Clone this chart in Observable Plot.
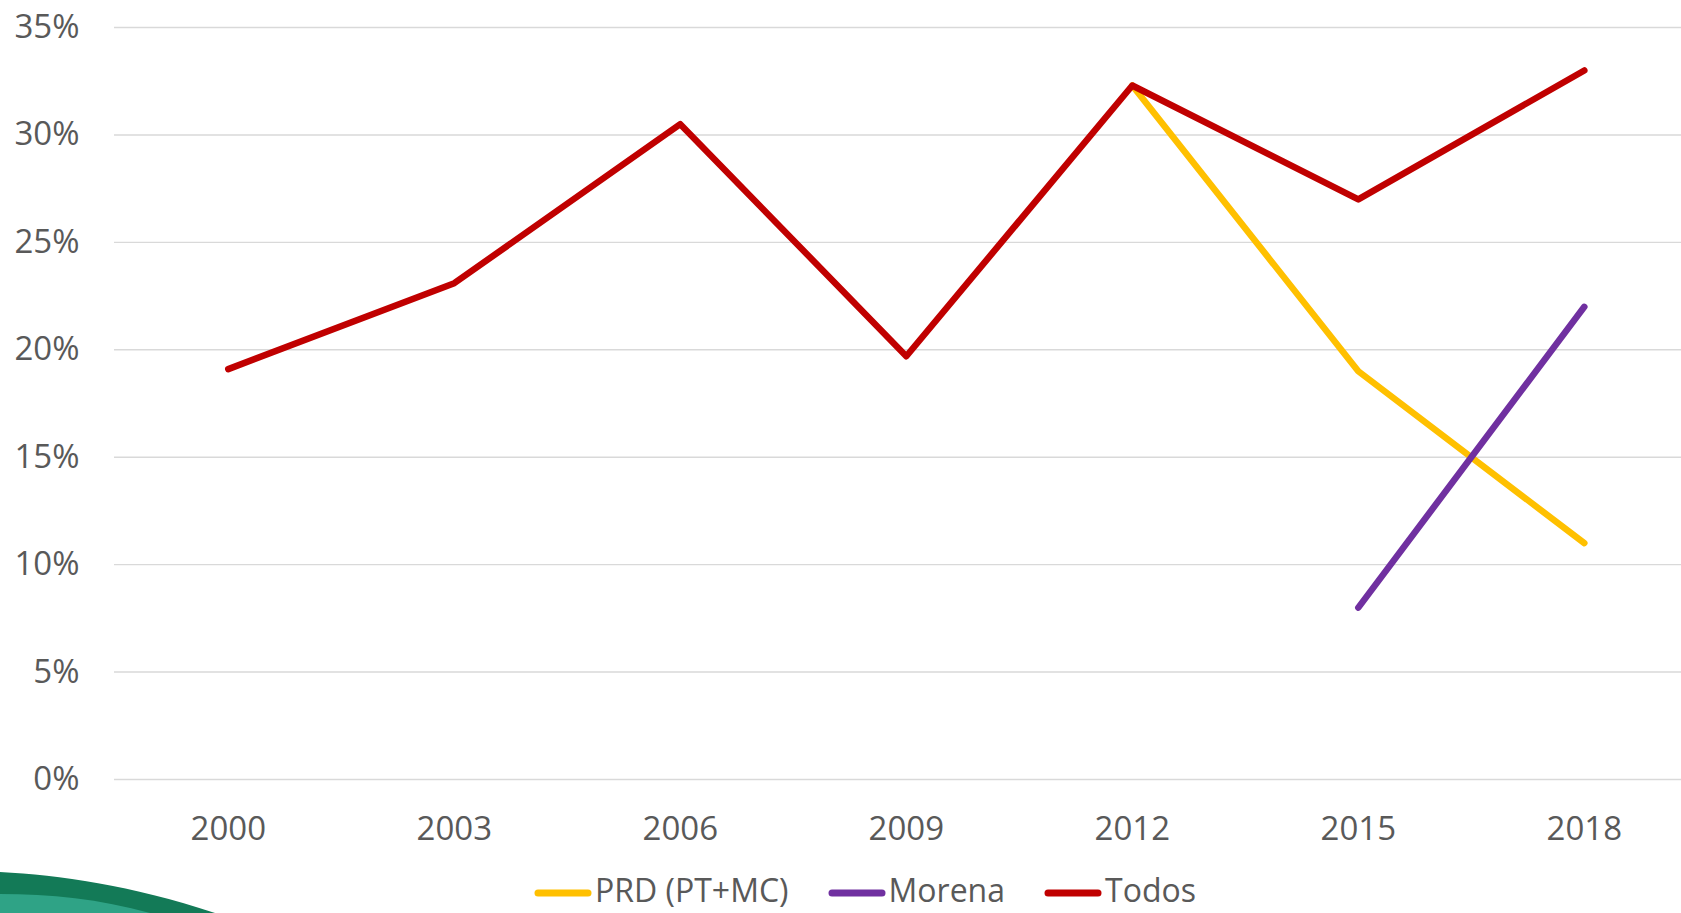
<!DOCTYPE html>
<html>
<head>
<meta charset="utf-8">
<script src="https://cdn.jsdelivr.net/npm/d3@7"></script>
<script src="https://cdn.jsdelivr.net/npm/@observablehq/plot@0.6"></script>
<style>
  html, body { margin: 0; padding: 0; background: #fff; overflow: hidden; }
  body { width: 1681px; height: 913px; position: relative; font-family: "Open Sans", sans-serif; }
  #chart { position: absolute; left: 0; top: 0; }
  #legend { position: absolute; left: 534px; top: 868px; height: 44px; display: flex; align-items: center; font-size: 32px; line-height: 44px; color: #595959; white-space: nowrap; }
  .item { display: flex; align-items: center; margin-right: 39px; height: 44px; }
  .item svg { margin-right: 3px; position: relative; top: 3px; }
  #deco { position: absolute; left: 0; top: 860px; }
</style>
</head>
<body>
<svg id="deco" width="260" height="53" viewBox="0 0 260 53">
  <path d="M0,12 C60,15 130,25 215,53 L0,53 Z" fill="#137a57"/>
  <path d="M0,34 C50,34 100,39 150,53 L0,53 Z" fill="#2fa386"/>
</svg>
<div id="chart"></div>
<div id="legend"></div>
<script>
const years = [2000, 2003, 2006, 2009, 2012, 2015, 2018];
const todos = [19.1, 23.1, 30.5, 19.7, 32.3, 27.0, 33.0];
const prd = [null, null, null, null, 32.3, 19.0, 11.0];
const morena = [null, null, null, null, null, 8.0, 22.0];
const seriesNames = ["PRD (PT+MC)", "Morena", "Todos"];
const seriesColors = ["#FFC000", "#7030A0", "#C00000"];
const yTicks = [0, 5, 10, 15, 20, 25, 30, 35];

const seriesValues = [prd, morena, todos];
const rows = [];
seriesNames.forEach((name, i) => {
  years.forEach((yr, j) => {
    const v = seriesValues[i][j];
    if (v != null) rows.push({series: name, year: yr, value: v});
  });
});

const chart = Plot.plot({
  width: 1681,
  height: 860,
  marginLeft: 114,
  marginRight: 0,
  marginTop: 27,
  marginBottom: 81,
  style: {fontFamily: "'Open Sans', sans-serif", fontSize: "33px", color: "#595959", background: "transparent", overflow: "visible"},
  x: {type: "linear", domain: [1998.49, 2019.29], ticks: years, tickFormat: d => String(d), tickSize: 0, tickPadding: 37, label: null},
  y: {domain: [0, 35], ticks: yTicks, tickFormat: d => d + "%", tickSize: 0, tickPadding: 35, label: null},
  color: {domain: seriesNames, range: seriesColors},
  marks: [
    Plot.ruleY(yTicks, {stroke: "#D9D9D9", strokeWidth: 1.4}),
    Plot.axisX({ticks: years, tickFormat: d => String(d), tickSize: 0, tickPadding: 37, fill: "#595959", label: null}),
    Plot.axisY({ticks: yTicks, tickFormat: d => d + "%", tickSize: 0, tickPadding: 35, fill: "#595959", label: null}),
    ...seriesNames.map(name => Plot.line(rows.filter(r => r.series === name), {
      x: "year", y: "value", stroke: "series",
      strokeWidth: 6.5, strokeLinecap: "round", strokeLinejoin: "round"
    }))
  ]
});
document.getElementById("chart").appendChild(chart);

const legend = document.getElementById("legend");
seriesNames.forEach((name, i) => {
  const item = document.createElement("div");
  item.className = "item";
  item.innerHTML = `<svg width="58" height="10"><line x1="4" y1="5" x2="54" y2="5" stroke="${seriesColors[i]}" stroke-width="7" stroke-linecap="round"/></svg><span>${name}</span>`;
  legend.appendChild(item);
});
</script>
</body>
</html>
